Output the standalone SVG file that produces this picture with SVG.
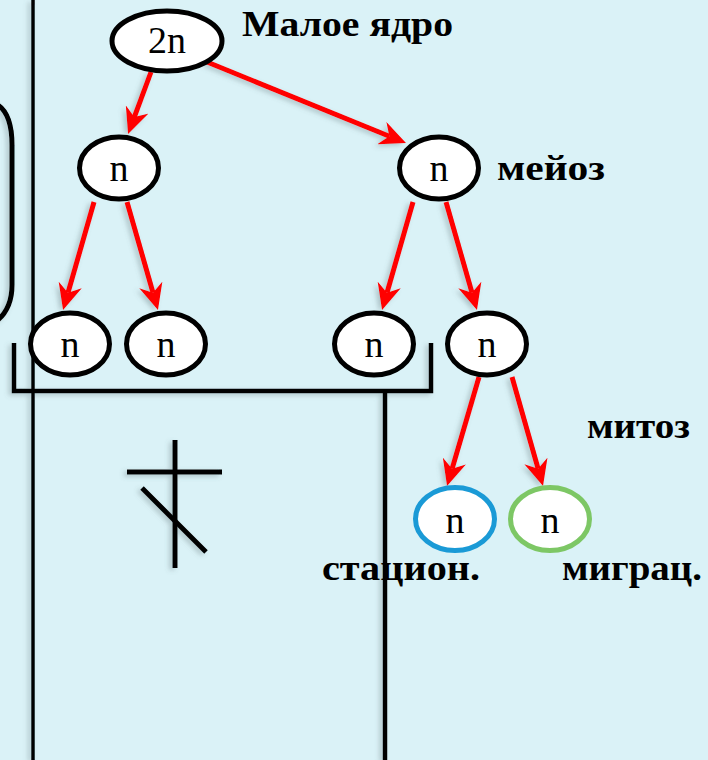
<svg xmlns="http://www.w3.org/2000/svg" width="708" height="760" viewBox="0 0 708 760">
  <defs>
    <style>
      .node ellipse { fill: #ffffff; stroke: #000000; stroke-width: 5; }
      .node text { font-family: "Liberation Serif", "DejaVu Serif", serif; font-size: 38px; fill: #000000; text-anchor: middle; }
      .label { font-family: "Liberation Serif", "DejaVu Serif", serif; font-weight: bold; font-size: 36px; fill: #000000; }
      .ink { fill: none; stroke: #000000; stroke-linecap: butt; }
      .arrow { stroke: #ff0000; stroke-width: 5; fill: none; marker-end: url(#head); }
    </style>
    <filter id="shade" x="-20%" y="-20%" width="140%" height="140%">
      <feDropShadow dx="-3" dy="2" stdDeviation="2.5" flood-color="#5a6a70" flood-opacity="0.35"/>
    </filter>
    <!-- notched arrowhead; line ends 18px before the tip -->
    <marker id="head" markerUnits="userSpaceOnUse" viewBox="0 0 26 24" refX="8" refY="12" markerWidth="26" markerHeight="24" orient="auto">
      <path d="M0,0 L26,12 L0,24 L8,12 Z" fill="#ff0000"/>
    </marker>
  </defs>

  <rect x="0" y="0" width="708" height="760" fill="#daf2f7"/>

  <!-- background strokes: side curve, dividers, bracket, cross -->
  <g id="strokes" filter="url(#shade)">
    <path class="ink" stroke-width="5" d="M-2,105 C8,112 12,125 12,145 L12,285 C12,300 7,312 -2,320"/>
    <line class="ink" stroke-width="3.5" x1="33" y1="0" x2="33" y2="760"/>
    <line class="ink" stroke-width="4.5" x1="385" y1="390" x2="385" y2="760"/>
    <path class="ink" stroke-width="4.5" d="M14,343 L14,391 L431,391 L431,343"/>
    <line class="ink" stroke-width="5" x1="175" y1="440" x2="175" y2="568"/>
    <line class="ink" stroke-width="5" x1="127" y1="472" x2="222" y2="472"/>
    <line class="ink" stroke-width="5" x1="142" y1="488" x2="206" y2="552"/>
  </g>

  <!-- connectors -->
  <g id="connectors" filter="url(#shade)">
    <line class="arrow" x1="151" y1="72" x2="134.3" y2="117.1"/>
    <line class="arrow" x1="207" y1="62" x2="389.3" y2="136.2"/>
    <line class="arrow" x1="94" y1="202" x2="68" y2="292.7"/>
    <line class="arrow" x1="127" y1="202" x2="153" y2="292.7"/>
    <line class="arrow" x1="413" y1="202" x2="387" y2="292.7"/>
    <line class="arrow" x1="446" y1="202" x2="472" y2="292.7"/>
    <line class="arrow" x1="479" y1="377" x2="452.1" y2="468.7"/>
    <line class="arrow" x1="512" y1="377" x2="538.1" y2="468.7"/>
  </g>

  <!-- nodes -->
  <g id="n-root" class="node"><ellipse cx="167" cy="41" rx="55" ry="30"/><text x="167" y="53">2n</text></g>
  <g id="n-l" class="node"><ellipse cx="119" cy="168" rx="39.5" ry="31"/><text x="119" y="181">n</text></g>
  <g id="n-r" class="node"><ellipse cx="439" cy="168" rx="39.5" ry="31"/><text x="439" y="181">n</text></g>
  <g id="n-ll" class="node"><ellipse cx="70" cy="344" rx="39.5" ry="31"/><text x="70" y="357">n</text></g>
  <g id="n-lr" class="node"><ellipse cx="166" cy="344" rx="39.5" ry="31"/><text x="166" y="357">n</text></g>
  <g id="n-rl" class="node"><ellipse cx="374" cy="344" rx="39.5" ry="31"/><text x="374" y="357">n</text></g>
  <g id="n-rr" class="node"><ellipse cx="487" cy="344" rx="39.5" ry="31"/><text x="487" y="357">n</text></g>
  <g id="n-stat" class="node"><ellipse cx="455" cy="519" rx="39.5" ry="31.5" style="stroke:#1a9ad6"/><text x="455" y="533">n</text></g>
  <g id="n-migr" class="node"><ellipse cx="550" cy="519" rx="39.5" ry="31.5" style="stroke:#7dc765"/><text x="550" y="533">n</text></g>

  <!-- labels -->
  <g id="labels">
    <text class="label" x="242" y="36" textLength="211" lengthAdjust="spacingAndGlyphs">Малое ядро</text>
    <text class="label" x="497" y="180" textLength="108" lengthAdjust="spacingAndGlyphs">мейоз</text>
    <text class="label" x="587" y="438" font-size="34" textLength="103" lengthAdjust="spacingAndGlyphs">митоз</text>
    <text class="label" x="322" y="580" textLength="158" lengthAdjust="spacingAndGlyphs">стацион.</text>
    <text class="label" x="562" y="580" textLength="140" lengthAdjust="spacingAndGlyphs">миграц.</text>
  </g>
</svg>
